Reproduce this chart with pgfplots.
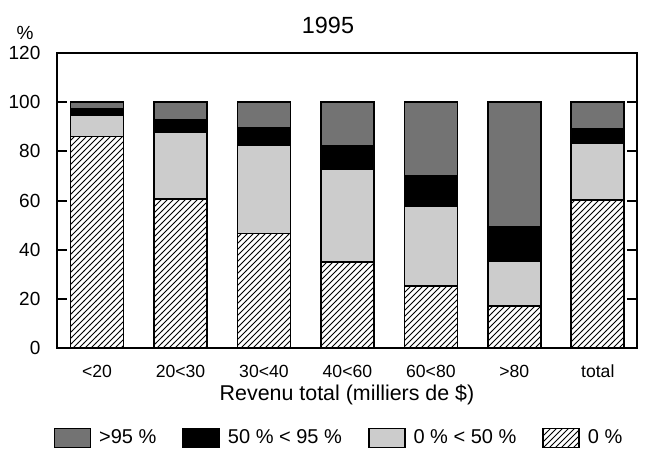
\documentclass[border=0pt]{standalone}
\usepackage{fontspec}
\setmainfont{Liberation Sans}
\usepackage{pgfplots}
\pgfplotsset{compat=1.18}
\usetikzlibrary{patterns}
\definecolor{darkg}{HTML}{737373}
\definecolor{lightg}{HTML}{CCCCCC}
\pgfplotsset{legbox/.style={legend image code/.code={\draw[##1,line width=0.8pt] (0pt,-4.75pt) rectangle (18pt,4.75pt);}}}
\begin{document}
\begin{tikzpicture}
\useasboundingbox (-28.5pt,-51.5pt) rectangle (296pt,174pt);
\begin{axis}[
  name=ax, at={(0,0)}, anchor=south west,
  scale only axis, width=290pt, height=147.5pt,
  ybar stacked, bar width=0.635,
  xmin=-0.48, xmax=6.47, ymin=0, ymax=120,
  ytick={0,20,...,120},
  xtick={0,...,6},
  xticklabels={{<20},{20<30},{30<40},{40<60},{60<80},{>80},{total}},
  xtick style={draw=none},
  ytick pos=both, yticklabel pos=left,
  tick align=inside, major tick length=5pt,
  ytick style={line width=1pt, black},
  axis line style={line width=1pt},
  /pgf/number format/assume math mode=true,
  yticklabel style={xshift=-4.8pt, font=\fontsize{9.5}{11}\selectfont},
  xticklabel style={yshift=-5pt, font=\fontsize{8.8}{10}\selectfont},
  xlabel={Revenu total (milliers de \$)},
  xlabel style={at={(axis description cs:0.5,0)}, anchor=center, yshift=-23.5pt, font=\fontsize{10.7}{12}\selectfont},
  legend style={at={(axis description cs:0.5,0)}, anchor=center, xshift=-3.5pt, yshift=-45pt, draw=none,
    font=\fontsize{10}{12}\selectfont, legend columns=4,
    /tikz/every even column/.append style={column sep=11pt},
    /tikz/every odd column/.append style={column sep=2pt}},
]
\addlegendimage{legbox, fill=darkg, draw=black}
\addlegendentry{>95 \%}
\addlegendimage{legbox, fill=black, draw=black}
\addlegendentry{50 \% < 95 \%}
\addlegendimage{legbox, fill=lightg, draw=black}
\addlegendentry{0 \% < 50 \%}
\addlegendimage{legbox, pattern=north east lines, draw=black}
\addlegendentry{0 \%}
\addplot[forget plot, draw=black, line width=0.8pt, pattern=north east lines] coordinates {(0,86) (1,60.6) (2,46.5) (3,35) (4,25.1) (5,17.1) (6,60.3)};
\addplot[forget plot, draw=black, line width=0.8pt, fill=lightg] coordinates {(0,8.8) (1,27.1) (2,36) (3,37.9) (4,32.7) (5,18.3) (6,23.1)};
\addplot[forget plot, draw=black, line width=0.8pt, fill=black] coordinates {(0,2.4) (1,5.1) (2,7.1) (3,9.4) (4,12.3) (5,14) (6,5.7)};
\addplot[forget plot, draw=black, line width=0.8pt, fill=darkg] coordinates {(0,2.8) (1,7.2) (2,10.4) (3,17.7) (4,29.9) (5,50.6) (6,10.9)};
\end{axis}
\node[anchor=base, font=\fontsize{9.5}{11}\selectfont] at ([xshift=-16pt,yshift=7pt]ax.north west) {\%};
\node[anchor=base, font=\fontsize{11.7}{14}\selectfont] at ([xshift=-9.5pt,yshift=10pt]ax.north) {1995};
\end{tikzpicture}
\end{document}
